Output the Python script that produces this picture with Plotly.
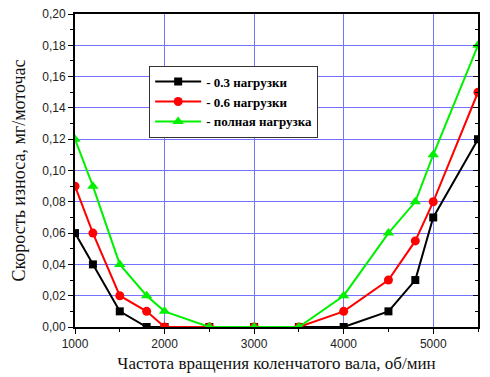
import plotly.graph_objects as go

rpm = [1000, 1200, 1500, 1800, 2000, 2500, 3000, 3500, 4000, 4500, 4800, 5000, 5500]
wear_03 = [0.06, 0.04, 0.01, 0.0, 0.0, 0.0, 0.0, 0.0, 0.0, 0.01, 0.03, 0.07, 0.12]
wear_06 = [0.09, 0.06, 0.02, 0.01, 0.0, 0.0, 0.0, 0.0, 0.01, 0.03, 0.055, 0.08, 0.15]
wear_full = [0.12, 0.09, 0.04, 0.02, 0.01, 0.0, 0.0, 0.0, 0.02, 0.06, 0.08, 0.11, 0.18]
names = ["- 0.3 нагрузки", "- 0.6 нагрузки", "- полная нагрузка"]

y_ticks = [0.0, 0.02, 0.04, 0.06, 0.08, 0.10, 0.12, 0.14, 0.16, 0.18, 0.20]
y_labels = ["0,00", "0,02", "0,04", "0,06", "0,08", "0,10", "0,12", "0,14", "0,16", "0,18", "0,20"]
x_ticks = [1000, 2000, 3000, 4000, 5000]

fig = go.Figure()
fig.add_trace(go.Scatter(x=rpm, y=wear_03, name=names[0], mode="lines+markers",
                         line=dict(color="black", width=2),
                         marker=dict(symbol="square", size=8, color="black")))
fig.add_trace(go.Scatter(x=rpm, y=wear_06, name=names[1], mode="lines+markers",
                         line=dict(color="#ff0000", width=2),
                         marker=dict(symbol="circle", size=9, color="#ff0000")))
fig.add_trace(go.Scatter(x=rpm, y=wear_full, name=names[2], mode="lines+markers",
                         line=dict(color="#00f000", width=2),
                         marker=dict(symbol="triangle-up", size=10, color="#00f000")))
fig.add_trace(go.Scatter(x=[rpm[0]], y=[0], yaxis="y2", showlegend=False,
                         mode="markers", marker=dict(opacity=0), hoverinfo="skip"))

fig.update_layout(
    width=490, height=377,
    margin=dict(l=75, r=12, t=14, b=50),
    paper_bgcolor="white", plot_bgcolor="white",
    font=dict(family="Liberation Sans", size=12, color="#222"),
    xaxis=dict(range=[1000, 5500], tickvals=x_ticks, ticks="outside", ticklen=5,
               tickcolor="black", showline=True, linecolor="black", linewidth=2,
               mirror=True, showgrid=True, gridcolor="#7373ff", gridwidth=1,
               zeroline=False, automargin=False,
               minor=dict(tickvals=[1500, 2500, 3500, 4500, 5500], ticks="outside",
                          ticklen=3, tickcolor="black", showgrid=False),
               title=dict(text="Частота вращения коленчатого вала, об/мин",
                          font=dict(family="Liberation Serif", size=17, color="#111"),
                          standoff=7)),
    yaxis=dict(range=[0, 0.20], tickvals=y_ticks, ticktext=y_labels, ticks="outside",
               ticklen=5, tickcolor="black", showline=True, linecolor="black",
               linewidth=2, mirror=True, showgrid=True, gridcolor="#7373ff",
               gridwidth=1, zeroline=False, automargin=False,
               minor=dict(dtick=0.01, ticks="outside", ticklen=3, tickcolor="black",
                          showgrid=False),
               title=dict(text="Скорость износа, мг/моточас",
                          font=dict(family="Liberation Serif", size=18, color="#111"),
                          standoff=12)),
    yaxis2=dict(range=[0, 0.20], overlaying="y", side="right", tickvals=y_ticks,
                showticklabels=False, ticks="inside", ticklen=5, tickcolor="black",
                showgrid=False, zeroline=False, showline=False, automargin=False,
                minor=dict(dtick=0.01, ticks="inside", ticklen=3, tickcolor="black")),
    legend=dict(x=0.184, y=0.835, xanchor="left", yanchor="top",
                bgcolor="white", bordercolor="#333", borderwidth=1,
                font=dict(family="Liberation Serif", size=13, color="black",
                          weight="bold"),
                itemwidth=46, tracegroupgap=0),
)

fig.write_html("out.html", config={"displayModeBar": False},
               post_script="document.body.style.margin='0';")
